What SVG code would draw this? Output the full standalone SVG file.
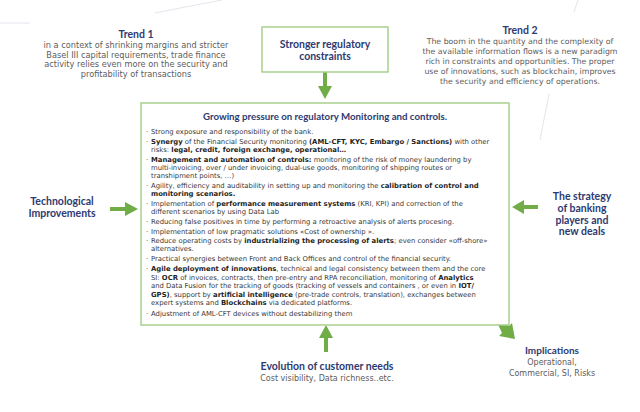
<svg xmlns="http://www.w3.org/2000/svg" width="640" height="412" viewBox="0 0 640 412">
<style>
.hd{font-family:"Lato","Liberation Sans",sans-serif;font-weight:bold;fill:#2e3a70;text-anchor:middle}
.gt{font-family:"DejaVu Sans","Liberation Sans",sans-serif;fill:#5c5c5c;text-anchor:middle}
.bl{font-family:"DejaVu Sans","Liberation Sans",sans-serif;font-size:6.85px;fill:#383838}
.bl tspan.b{font-weight:bold;fill:#1e1e1e}
.box{fill:#fff;stroke:#a9d18e;stroke-width:1.5}
.deco{fill:none;stroke:#e3e6ec;stroke-width:1}
.arr{fill:#70ad47}
</style>
<rect width="640" height="412" fill="#fff"/>
<g id="decor">
<path class="deco" d="M0 23 L30 23"/>
<path class="deco" d="M155 13 Q190 6 222 0"/>
<path class="deco" d="M578 0 L574 12"/>
<path class="deco" d="M549 94 L540 140"/>
</g>
<g id="connectors">
<path class="arr" d="M323 72 h4 v14 h5 l-7 13 l-7 -13 h5 z"/>
<path class="arr" d="M110 207 h15 v-5 l13 7 l-13 7 v-5 h-15 z"/>
<path class="arr" d="M538 205 h-14 v-5 l-12 7 l12 7 v-5 h14 z"/>
<path class="arr" d="M324 352 v-14 h-5 l7 -13 l7 13 h-5 v14 z"/>
<path class="arr" d="M495 318 l3 -3 l11 11 l3 -3 l3 16 l-16 -3 l3 -3 z"/>
</g>
<g id="trend1">
<text class="hd" x="136" y="38" font-size="10.5">Trend 1</text>
<text class="gt" font-size="8.2"><tspan x="136" y="48">in a context of shrinking margins and stricter</tspan><tspan x="136" y="57.5">Basel III capital requirements, trade finance</tspan><tspan x="136" y="67">activity relies even more on the security and</tspan><tspan x="136" y="76.5">profitability of transactions</tspan></text>
</g>
<g id="trend2">
<text class="hd" x="520" y="34" font-size="10.5">Trend 2</text>
<text class="gt" font-size="7.8"><tspan x="520" y="44">The boom in the quantity and the complexity of</tspan><tspan x="520" y="54">the available information flows is a new paradigm</tspan><tspan x="520" y="64">rich in constraints and opportunities. The proper</tspan><tspan x="520" y="74">use of innovations, such as blockchain, improves</tspan><tspan x="520" y="84">the security and efficiency of operations.</tspan></text>
</g>
<g id="regulatory">
<rect class="box" x="262" y="27" width="126" height="45"/>
<text class="hd" font-size="10.5"><tspan x="325" y="48">Stronger regulatory</tspan><tspan x="325" y="60">constraints</tspan></text>
</g>
<g id="main">
<rect class="box" x="141" y="103" width="368" height="222"/>
<text class="hd" x="325" y="120" font-size="9.7">Growing pressure on regulatory Monitoring and controls.</text>
<text class="bl">
<tspan x="146" y="134">·</tspan><tspan x="151" y="134">Strong exposure and responsibility of the bank.</tspan>
<tspan x="146" y="144">·</tspan><tspan x="151" y="144"><tspan class="b">Synergy</tspan> of the Financial Security monitoring <tspan class="b">(AML-CFT, KYC, Embargo / Sanctions)</tspan> with other</tspan>
<tspan x="151" y="152">risks: <tspan class="b">legal, credit, foreign exchange, operational…</tspan></tspan>
<tspan x="146" y="162">·</tspan><tspan x="151" y="162"><tspan class="b">Management and automation of controls:</tspan> monitoring of the risk of money laundering by</tspan>
<tspan x="151" y="170">multi-invoicing, over / under invoicing, dual-use goods, monitoring of shipping routes or</tspan>
<tspan x="151" y="178">transhipment points, …)</tspan>
<tspan x="146" y="188">·</tspan><tspan x="151" y="188">Agility, efficiency and auditability in setting up and monitoring the <tspan class="b">calibration of control and</tspan></tspan>
<tspan x="151" y="196" class="b">monitoring scenarios.</tspan>
<tspan x="146" y="206">·</tspan><tspan x="151" y="206">Implementation of <tspan class="b">performance measurement systems</tspan> (KRI, KPI) and correction of the</tspan>
<tspan x="151" y="214">different scenarios by using Data Lab</tspan>
<tspan x="146" y="224">·</tspan><tspan x="151" y="224">Reducing false positives in time by performing a retroactive analysis of alerts procesing.</tspan>
<tspan x="146" y="233.5">·</tspan><tspan x="151" y="233.5">Implementation of low pragmatic solutions  «Cost of ownership ».</tspan>
<tspan x="146" y="243">·</tspan><tspan x="151" y="243">Reduce operating costs by <tspan class="b">industrializing the processing of alerts</tspan>; even consider «off-shore»</tspan>
<tspan x="151" y="251">alternatives.</tspan>
<tspan x="146" y="260.5">·</tspan><tspan x="151" y="260.5">Practical synergies between Front and Back Offices and control of the financial security.</tspan>
<tspan x="146" y="271">·</tspan><tspan x="151" y="271"><tspan class="b">Agile deployment of innovations</tspan>, technical and legal consistency between them and the core</tspan>
<tspan x="151" y="279.5">SI: <tspan class="b">OCR</tspan> of invoices, contracts, then pre-entry and RPA reconciliation, monitoring of <tspan class="b">Analytics</tspan></tspan>
<tspan x="151" y="288">and Data Fusion for the tracking of goods (tracking of vessels and containers , or even in <tspan class="b">IOT/</tspan></tspan>
<tspan x="151" y="296.5"><tspan class="b">GPS)</tspan>, support by <tspan class="b">artificial intelligence</tspan> (pre-trade controls, translation), exchanges between</tspan>
<tspan x="151" y="305">expert systems and <tspan class="b">Blockchains</tspan> via dedicated platforms.</tspan>
<tspan x="146" y="316">·</tspan><tspan x="151" y="316">Adjustment of AML-CFT devices without destabilizing them</tspan>
</text>
</g>
<g id="technological">
<text class="hd" font-size="10.5"><tspan x="62" y="205">Technological</tspan><tspan x="62" y="216.5">Improvements</tspan></text>
</g>
<g id="strategy">
<text class="hd" font-size="10.5"><tspan x="582" y="200">The strategy</tspan><tspan x="582" y="212">of banking</tspan><tspan x="582" y="223.5">players and</tspan><tspan x="582" y="235">new deals</tspan></text>
</g>
<g id="customer">
<text class="hd" x="327" y="370" font-size="10.5">Evolution of customer needs</text>
<text class="gt" x="327" y="380.5" font-size="8">Cost visibility, Data richness..etc.</text>
</g>
<g id="implications">
<text class="hd" x="552" y="354" font-size="10">Implications</text>
<text class="gt" font-size="8"><tspan x="552" y="364.5">Operational,</tspan><tspan x="552" y="375.5">Commercial, SI, Risks</tspan></text>
</g>
</svg>
